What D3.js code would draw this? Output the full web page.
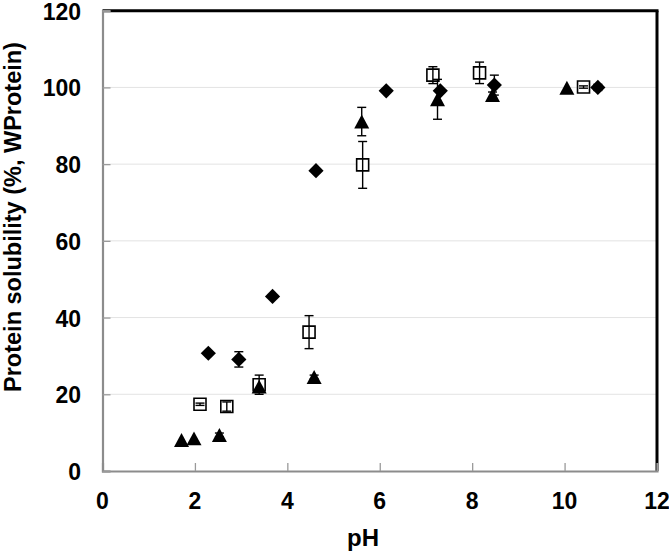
<!DOCTYPE html>
<html>
<head>
<meta charset="utf-8">
<script src="https://cdn.jsdelivr.net/npm/d3@7"></script>
<style>
  html, body { margin: 0; padding: 0; background: #fff; }
  svg { display: block; }
  text { font-family: "Liberation Sans", Arial, sans-serif; font-weight: bold; fill: #000; }
</style>
</head>
<body>
<svg id="chart" width="669" height="553"></svg>
<script>
// ---- Data ----
const xTicks = [0, 2, 4, 6, 8, 10, 12];
const yTicks = [0, 20, 40, 60, 80, 100, 120];
const xTitle = "pH";
const yTitle = "Protein solubility (%, WProtein)";

// Series: open squares
const squarePH  = [2.11, 2.69, 3.39, 4.47, 5.63, 7.15, 8.16, 10.41];
const squareVal = [17.4, 16.8, 22.5, 36.2, 79.8, 103.2, 103.8, 100.1];
const squareErr = [0.3, 1.2, 2.5, 4.3, 6.1, 2.2, 2.8, 0.3];

// Series: filled diamonds
const diamondPH  = [2.29, 2.95, 3.68, 4.62, 6.14, 7.31, 8.48, 10.72];
const diamondVal = [30.7, 29.1, 45.5, 78.3, 99.1, 99.1, 100.6, 100.0];
const diamondErr = [0, 2.0, 0, 0, 0, 0, 2.6, 0.8];

// Series: filled triangles
const trianglePH  = [1.71, 1.98, 2.53, 3.39, 4.58, 5.61, 7.25, 8.44, 10.05];
const triangleVal = [8.1, 8.5, 9.4, 22.0, 24.5, 91.1, 96.9, 98.0, 99.9];
const triangleErr = [0, 0, 0.5, 0, 0.5, 3.7, 5.2, 0.8, 0];

// ---- Layout ----
const L = 102.5, R = 657, T = 10.7, B = 471;
const svg = d3.select("#chart");
const x = d3.scaleLinear().domain([0, 12]).range([L, R]);
const y = d3.scaleLinear().domain([0, 120]).range([B, T]);

// gridlines
svg.append("g").selectAll("line")
  .data(yTicks.filter(v => v > 0 && v < 120))
  .join("line")
  .attr("x1", L).attr("x2", R)
  .attr("y1", d => y(d)).attr("y2", d => y(d))
  .attr("stroke", "#e3e3e3").attr("stroke-width", 1);

// top & right frame (black)
svg.append("line").attr("x1", L).attr("x2", R + 1.5).attr("y1", T).attr("y2", T)
  .attr("stroke", "#000").attr("stroke-width", 3);
svg.append("line").attr("x1", R).attr("x2", R).attr("y1", T).attr("y2", B)
  .attr("stroke", "#000").attr("stroke-width", 3);

// axes with inward ticks
const xAxis = d3.axisBottom(x).tickValues(xTicks).tickSize(-8).tickFormat("");
const yAxis = d3.axisLeft(y).tickValues(yTicks).tickSize(-8).tickFormat("");
const gx = svg.append("g").attr("transform", `translate(0,${B})`).call(xAxis);
const gy = svg.append("g").attr("transform", `translate(${L},0)`).call(yAxis);
[gx, gy].forEach(g => {
  g.select(".domain").attr("stroke", "#8c8c8c").attr("stroke-width", 2.2);
  g.selectAll(".tick line").attr("stroke", "#9a9a9a").attr("stroke-width", 1.3);
});

// tick labels
svg.append("g").selectAll("text").data(yTicks).join("text")
  .attr("x", 81).attr("y", d => y(d) + 1).attr("dy", "0.35em")
  .attr("text-anchor", "end").style("font-size", "23px")
  .text(d => d);
svg.append("g").selectAll("text").data(xTicks).join("text")
  .attr("x", d => x(d)).attr("y", 501).attr("dy", "0.35em")
  .attr("text-anchor", "middle").style("font-size", "23px")
  .text(d => d);

// axis titles
svg.append("text").attr("x", 363).attr("y", 546)
  .attr("text-anchor", "middle").style("font-size", "24px").text(xTitle);
svg.append("text")
  .attr("transform", "translate(21,217) rotate(-90)")
  .attr("text-anchor", "middle").style("font-size", "23.5px")
  .text(yTitle);

// symbol types
const squareType = { draw(ctx, s) { const h = s; ctx.moveTo(-h, -h); ctx.lineTo(h, -h); ctx.lineTo(h, h); ctx.lineTo(-h, h); ctx.closePath(); } };
const diamondType = { draw(ctx, s) { ctx.moveTo(0, -s); ctx.lineTo(s, 0); ctx.lineTo(0, s); ctx.lineTo(-s, 0); ctx.closePath(); } };
const triangleType = { draw(ctx, s) { ctx.moveTo(0, -s * 0.93); ctx.lineTo(s, s * 0.93); ctx.lineTo(-s, s * 0.93); ctx.closePath(); } };

function series(phs, vals, errs, type, size, fill, sw) {
  const data = phs.map((p, i) => ({ p, v: vals[i], e: errs[i] }));
  const g = svg.append("g");
  const eb = g.append("g").attr("stroke", "#000").attr("stroke-width", 1.4);
  data.filter(d => d.e > 0).forEach(d => {
    const cx = x(d.p), y1 = y(d.v + d.e), y2 = y(d.v - d.e);
    eb.append("line").attr("x1", cx).attr("x2", cx).attr("y1", y1).attr("y2", y2);
    eb.append("line").attr("x1", cx - 4.5).attr("x2", cx + 4.5).attr("y1", y1).attr("y2", y1);
    eb.append("line").attr("x1", cx - 4.5).attr("x2", cx + 4.5).attr("y1", y2).attr("y2", y2);
  });
  g.append("g").selectAll("path").data(data).join("path")
    .attr("transform", d => `translate(${x(d.p)},${y(d.v)})`)
    .attr("d", d3.symbol().type(type).size(size))
    .attr("fill", fill).attr("stroke", "#000").attr("stroke-width", sw);
  // redraw error bars over open squares so the inner bar shows
  if (fill !== "#000") eb.raise();
}

series(squarePH, squareVal, squareErr, squareType, 6, "#fff", 1.6);
series(diamondPH, diamondVal, diamondErr, diamondType, 7.6, "#000", 0);
series(trianglePH, triangleVal, triangleErr, triangleType, 7.5, "#000", 0);
</script>
</body>
</html>
